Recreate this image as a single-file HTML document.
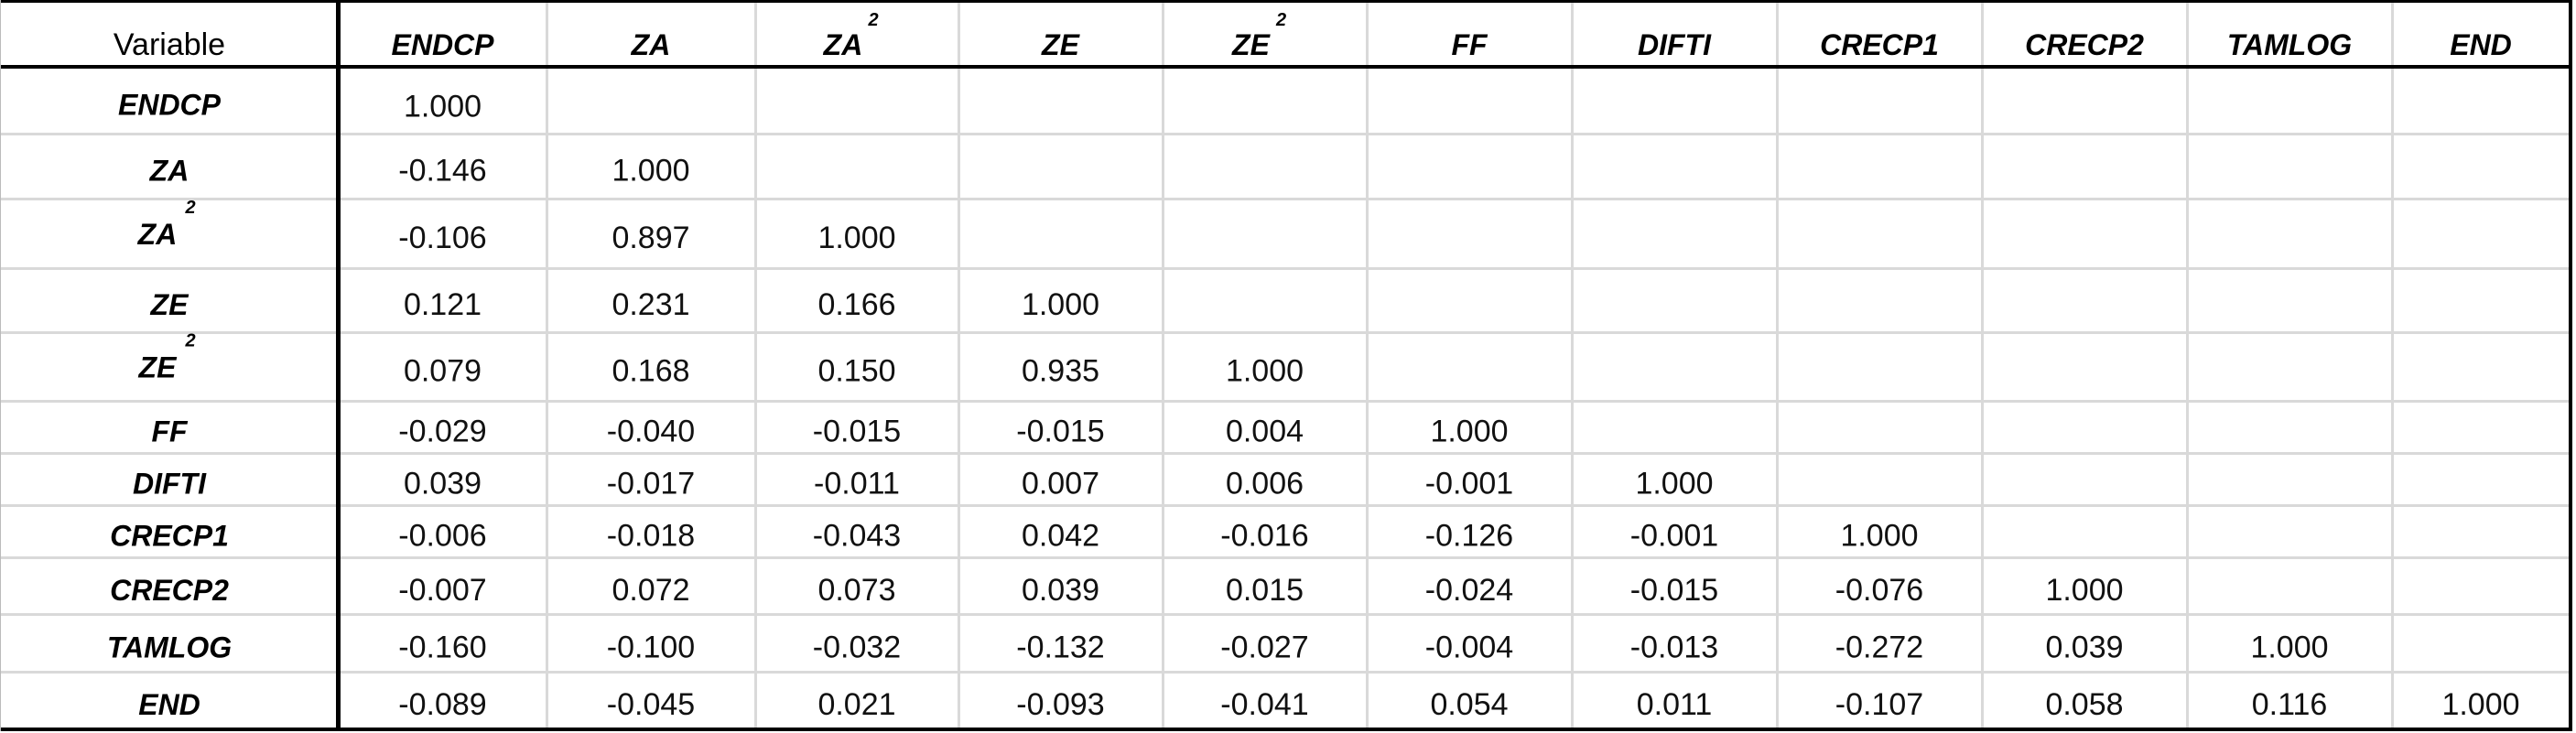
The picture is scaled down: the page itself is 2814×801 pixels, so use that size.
<!DOCTYPE html>
<html><head><meta charset="utf-8"><style>
html,body{margin:0;padding:0;background:#fff;width:2814px;height:801px;overflow:hidden}
svg{display:block}
.h{font-family:"Liberation Sans",sans-serif;font-weight:bold;font-style:italic;font-size:32px;fill:#000}
.v{font-family:"Liberation Sans",sans-serif;font-size:34px;fill:#000}
.n{font-family:"Liberation Sans",sans-serif;font-size:34px;fill:#111}
.s{font-family:"Liberation Sans",sans-serif;font-weight:bold;font-style:italic;font-size:20px;fill:#000}
</style></head><body>
<svg width="2814" height="801" xmlns="http://www.w3.org/2000/svg" id="t"></svg>
<script>
var svg=document.getElementById('t');
var cols=[0,370,597,825,1047,1270,1493,1717,1941,2165,2389,2613,2807];
var rows=[2,73,146,217,293,363,438,495,552,609,671,734,796];
var names=['ENDCP','ZA','ZA2','ZE','ZE2','FF','DIFTI','CRECP1','CRECP2','TAMLOG','END'];
var data=[
['1.000'],
['-0.146','1.000'],
['-0.106','0.897','1.000'],
['0.121','0.231','0.166','1.000'],
['0.079','0.168','0.150','0.935','1.000'],
['-0.029','-0.040','-0.015','-0.015','0.004','1.000'],
['0.039','-0.017','-0.011','0.007','0.006','-0.001','1.000'],
['-0.006','-0.018','-0.043','0.042','-0.016','-0.126','-0.001','1.000'],
['-0.007','0.072','0.073','0.039','0.015','-0.024','-0.015','-0.076','1.000'],
['-0.160','-0.100','-0.032','-0.132','-0.027','-0.004','-0.013','-0.272','0.039','1.000'],
['-0.089','-0.045','0.021','-0.093','-0.041','0.054','0.011','-0.107','0.058','0.116','1.000']];
var h='';
for(var i=2;i<rows.length-1;i++) h+='<rect x="0" y="'+(rows[i]-1)+'" width="2807" height="3" fill="#d9d9d9"/>';
for(var j=2;j<cols.length-1;j++) h+='<rect x="'+(cols[j]-1)+'" y="0" width="3" height="796" fill="#d9d9d9"/>';
h+='<rect x="0" y="0" width="2810" height="3" fill="#000"/>';
h+='<rect x="0" y="71" width="2810" height="4" fill="#000"/>';
h+='<rect x="0" y="795" width="2810" height="4" fill="#000"/>';
h+='<rect x="367" y="0" width="5" height="799" fill="#000"/>';
h+='<rect x="2806" y="0" width="4" height="799" fill="#000"/>';
h+='<rect x="0" y="0" width="1" height="799" fill="#bbb"/>';
function lab(name,cx,base,supOff,dx,sx){
  if(name==='ZA2'||name==='ZE2'){
    var b=name.slice(0,2);
    return '<text class="h" x="'+(cx+dx)+'" y="'+base+'" text-anchor="middle">'+b+'</text><text class="s" x="'+(cx+sx)+'" y="'+(base-supOff)+'" text-anchor="middle">2</text>';
  }
  return '<text class="h" x="'+cx+'" y="'+base+'" text-anchor="middle">'+name+'</text>';
}
h+='<text class="v" x="185" y="60" text-anchor="middle">Variable</text>';
for(var j=0;j<names.length;j++){
  var cx=(cols[j+1]+cols[j+2])/2;
  h+=lab(names[j],cx,60,32,-15,18);
}
for(var i=0;i<names.length;i++){
  var y0=rows[i+1],y1=rows[i+2],c=(y0+y1)/2;
  var sq=(names[i]==='ZA2'||names[i]==='ZE2');
  var lb=sq?c+12:c+16;
  h+=lab(names[i],sq?180:185,lb,34,-8,28);
  var nb=c+(i===0?18:16);
  for(var k=0;k<data[i].length;k++){
    var cx2=(cols[k+1]+cols[k+2])/2;
    h+='<text class="n" x="'+cx2+'" y="'+nb+'" text-anchor="middle">'+data[i][k]+'</text>';
  }
}
svg.innerHTML=h;
</script>
</body></html>
